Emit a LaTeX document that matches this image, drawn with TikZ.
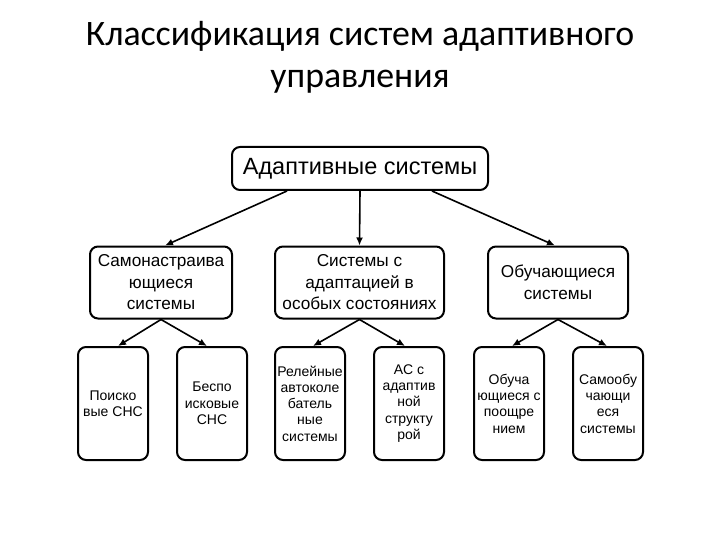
\documentclass[tikz,border=0pt]{standalone}
\usepackage{fontspec}
\setmainfont{Liberation Sans}
\newfontfamily\titlefont{Carlito}
\usetikzlibrary{arrows.meta}
\begin{document}
\begin{tikzpicture}[x=1pt,y=-1pt,
  box/.style={draw=black, line width=2pt, rounded corners=8pt, align=center, inner sep=0pt, fill=white},
  topbox/.style={box, minimum width=256pt, minimum height=43pt, font=\fontsize{23.5}{28}\selectfont},
  midbox/.style={box, minimum height=72pt, font=\fontsize{17.2}{21.5}\selectfont},
  lowbox/.style={box, minimum width=70pt, minimum height=113pt, font=\fontsize{14}{16.3}\selectfont},
  conn/.style={line width=1.6pt, -{Latex[length=8pt,width=7pt]}}]
\useasboundingbox (0,0) rectangle (720,540);
\node[font=\titlefont\fontsize{35.8}{42}\selectfont, align=center] (title) at (360,57) {Классификация систем адаптивного\\управления};
\node[topbox] (top) at (360,168.5) {Адаптивные системы};
\node[midbox, minimum width=142pt] (b1) at (161,282.5) {Самонастраива\\ющиеся\\системы};
\node[midbox, minimum width=169pt] (b2) at (359.5,282.5) {Системы с\\адаптацией в\\особых состояниях};
\node[midbox, minimum width=140pt] (b3) at (558,282.5) {Обучающиеся\\системы};
\node[lowbox] (c1) at (113,403.5) {Поиско\\вые СНС};
\node[lowbox] (c2) at (212,403.5) {Беспо\\исковые\\СНС};
\node[lowbox] (c3) at (310,403.5) {Релейные\\автоколе\\батель\\ные\\системы};
\node[lowbox] (c4) at (409,403.5) {АС с\\адаптив\\ной\\структу\\рой};
\node[lowbox] (c5) at (509,403.5) {Обуча\\ющиеся с\\поощре\\нием};
\node[lowbox] (c6) at (608,403.5) {Самообу\\чающи\\еся\\системы};
\draw[conn] ([xshift=-73pt]top.south) -- ([xshift=4pt]b1.north);
\draw[conn] (top.south) -- (b2.north);
\draw[conn] ([xshift=72pt]top.south) -- ([xshift=-3pt]b3.north);
\draw[conn] (b1.south) -- ([xshift=5pt]c1.north);
\draw[conn] (b1.south) -- ([xshift=-5pt]c2.north);
\draw[conn] (b2.south) -- ([xshift=3pt]c3.north);
\draw[conn] (b2.south) -- ([xshift=-4pt]c4.north);
\draw[conn] (b3.south) -- ([xshift=3pt]c5.north);
\draw[conn] (b3.south) -- ([xshift=-1pt]c6.north);
\end{tikzpicture}
\end{document}
